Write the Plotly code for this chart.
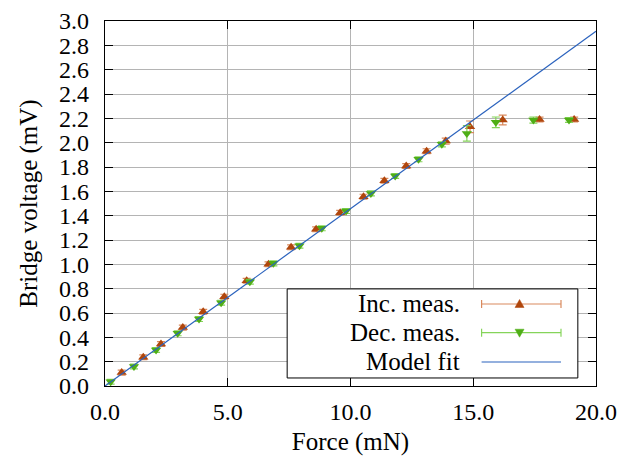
import plotly.graph_objects as go

# ---- data ----
inc_x = [0.68, 1.56, 2.28, 3.17, 4.00, 4.86, 5.77, 6.66, 7.58, 8.60, 9.58, 10.53,
         11.38, 12.27, 13.10, 13.88, 14.87, 16.20, 17.70, 19.11]
inc_y = [0.11, 0.236, 0.345, 0.48, 0.61, 0.734, 0.865, 1.00, 1.14, 1.288, 1.424, 1.556,
         1.687, 1.808, 1.93, 2.013, 2.13, 2.186, 2.19, 2.19]
inc_err = [0.02, 0.02, 0.02, 0.02, 0.02, 0.02, 0.02, 0.02, 0.02, 0.02, 0.02, 0.02,
           0.02, 0.02, 0.02, 0.025, 0.048, 0.04, 0.02, 0.02]

dec_x = [0.23, 1.18, 2.08, 2.96, 3.83, 4.73, 5.90, 6.86, 7.92, 8.83, 9.82, 10.83,
         11.82, 12.77, 13.72, 14.74, 15.92, 17.45, 18.90]
dec_y = [0.035, 0.16, 0.296, 0.433, 0.55, 0.685, 0.857, 1.008, 1.153, 1.296, 1.438, 1.583,
         1.726, 1.863, 1.986, 2.076, 2.167, 2.186, 2.186]
dec_err = [0.02, 0.02, 0.02, 0.02, 0.02, 0.02, 0.02, 0.02, 0.02, 0.02, 0.02, 0.02,
           0.02, 0.02, 0.02, 0.064, 0.044, 0.025, 0.02]

fit_x = [0.0, 20.0]
fit_y = [0.0, 2.915]

series_names = ["Inc. meas.", "Dec. meas.", "Model fit"]
x_ticks = [0, 5, 10, 15, 20]
x_tick_labels = ["0.0", "5.0", "10.0", "15.0", "20.0"]
y_ticks = [i * 0.2 for i in range(16)]
y_tick_labels = ["%.1f" % v for v in y_ticks]

# ---- style ----
FONT = "Liberation Serif"
FS = 25      # titles and legend
FS_TICK = 24
INC_C = "#b0460c"
INC_BAR = "#d98a5e"
DEC_C = "#4fae16"
DEC_BAR = "#85d45a"
FIT_C = "#2a62bd"

fig = go.Figure()
fig.add_trace(go.Scatter(
    x=inc_x, y=inc_y, mode="markers", name=series_names[0],
    marker=dict(symbol="triangle-up", size=9, color=INC_C),
    error_y=dict(type="data", array=inc_err, color=INC_BAR, thickness=1.2, width=4),
    showlegend=False))
fig.add_trace(go.Scatter(
    x=dec_x, y=dec_y, mode="markers", name=series_names[1],
    marker=dict(symbol="triangle-down", size=9, color=DEC_C),
    error_y=dict(type="data", array=dec_err, color=DEC_BAR, thickness=1.2, width=4),
    showlegend=False))
fig.add_trace(go.Scatter(
    x=fit_x, y=fit_y, mode="lines", name=series_names[2],
    line=dict(color=FIT_C, width=1.2), showlegend=False))

# ---- custom gnuplot-like legend (paper coords) ----
shapes = []
annotations = []
box = dict(x0=0.371, x1=0.963, y0=0.022, y1=0.266)
shapes.append(dict(type="rect", xref="paper", yref="paper", layer="above",
                   fillcolor="white", line=dict(color="black", width=1), **box))
rows = [0.2247, 0.146, 0.0658]
lx0, lx1, lxc = 0.767, 0.9287, 0.8443
colors = [(INC_BAR, INC_C, "up"), (DEC_BAR, DEC_C, "down"), (FIT_C, None, None)]
for name, yr, (lc, mc, tri) in zip(series_names, rows, colors):
    annotations.append(dict(text=name, xref="paper", yref="paper", x=0.727, y=yr,
                            xanchor="right", yanchor="middle", showarrow=False,
                            font=dict(family=FONT, size=FS, color="black")))
    shapes.append(dict(type="line", xref="paper", yref="paper", layer="above",
                       x0=lx0, x1=lx1, y0=yr, y1=yr, line=dict(color=lc, width=1.2)))
    if mc is not None:
        for xe in (lx0, lx1):
            shapes.append(dict(type="line", xref="paper", yref="paper", layer="above",
                               xsizemode="pixel", ysizemode="pixel", xanchor=xe, yanchor=yr,
                               x0=0, x1=0, y0=-4, y1=4, line=dict(color=lc, width=1.2)))
        path = "M -4.5,-3.5 L 4.5,-3.5 L 0,4.5 Z" if tri == "up" else "M -4.5,3.5 L 4.5,3.5 L 0,-4.5 Z"
        shapes.append(dict(type="path", xref="paper", yref="paper", layer="above",
                           xsizemode="pixel", ysizemode="pixel", xanchor=lxc, yanchor=yr,
                           path=path, fillcolor=mc, line=dict(color=mc, width=0.5)))

axis_common = dict(
    showline=True, linecolor="black", linewidth=1.2, mirror="allticks",
    ticks="inside", ticklen=8, tickcolor="black", tickwidth=1.2,
    showgrid=True, gridcolor="#b4b4b4", gridwidth=1, zeroline=False, automargin=False,
    tickfont=dict(family=FONT, size=FS_TICK, color="black"),
)

# page body has an 8px margin; figure size / margins compensate for it
fig.update_layout(
    width=625, height=452,
    margin=dict(l=97, r=37, t=13, b=74),
    paper_bgcolor="white", plot_bgcolor="white",
    font=dict(family=FONT, size=FS, color="black"),
    xaxis=dict(range=[0, 20], tickvals=x_ticks, ticktext=x_tick_labels,
               title=dict(text="Force (mN)", font=dict(family=FONT, size=FS), standoff=8),
               ticklabelstandoff=4, **axis_common),
    yaxis=dict(range=[0, 3.0], tickvals=y_ticks, ticktext=y_tick_labels,
               title=dict(text="Bridge voltage (mV)", font=dict(family=FONT, size=FS), standoff=14),
               ticklabelstandoff=10, **axis_common),
    shapes=shapes, annotations=annotations,
)

fig.write_html("out.html")
